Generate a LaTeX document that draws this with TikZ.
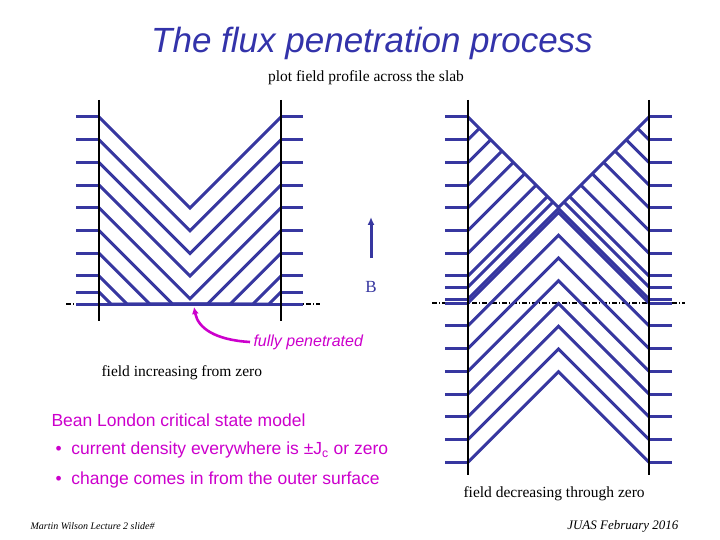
\documentclass[tikz,border=0pt]{standalone}
\usepackage{fontspec}
\setmainfont{Liberation Serif}
\setsansfont{Liberation Sans}
\usetikzlibrary{arrows.meta}
\definecolor{lb}{RGB}{55,55,160}
\definecolor{mg}{RGB}{204,0,204}
\definecolor{tb}{RGB}{51,51,170}
\tikzset{prof/.style={lb,line width=3pt,line join=miter},
wall/.style={black,line width=2pt},
dd/.style={black,line width=1.2pt,dash pattern=on 5pt off 2pt on 1pt off 2pt},
mtxt/.style={mg,font=\sffamily\fontsize{17.5}{20}\selectfont,anchor=west}}
\begin{document}
\begin{tikzpicture}[x=1pt,y=-1pt]
\useasboundingbox (0,0) rectangle (720,540);
\node (title) at (372,43) {\sffamily\itshape\fontsize{35}{40}\selectfont\color{tb}The flux penetration process};
\node (sub) at (366,78) {\fontsize{15.5}{18}\selectfont plot field profile across the slab};
% left diagram
\draw[dd] (66,304) -- (320,304);
\foreach \y in {117,139.7,162.4,185.1,207.8,230.5,253.2,275.9,292}{
  \draw[prof] (76,\y) -- (99,\y);
  \draw[prof] (281,\y) -- (303,\y);
  \pgfmathsetmacro{\d}{min(91,304-\y)}
  \draw[prof] (99,\y) -- ({99+\d},{\y+\d}) -- ({281-\d},{\y+\d}) -- (281,\y);
}
\draw[prof] (76,304) -- (303,304);
\draw[wall] (99,100) -- (99,321);
\draw[wall] (281,100) -- (281,321);
% B arrow
\draw[lb,line width=3pt,-{Latex[length=8pt,width=7pt]}] (371,258) -- (371,217);
\node (B) at (371,287) {\fontsize{17}{20}\selectfont\color{lb}B};
% fully penetrated
\node[mg,anchor=west] (fp) at (250,342) {\sffamily\itshape\fontsize{16}{18}\selectfont fully penetrated};
\draw[mg,line width=2.6pt,-{Latex[length=7pt,width=7pt]}] (fp.west) .. controls (215,340) and (198,328) .. (194,307);
\node[anchor=west] (fi) at (98,373) {\fontsize{15.5}{18}\selectfont field increasing from zero};
% right diagram
\draw[dd] (432,303) -- (685,303);
\foreach \y in {117,139.7,162.4,185.1,207.8,230.5,253.2,275.9,287,299}{
  \draw[prof] (445,\y) -- (468,\y);
  \draw[prof] (649,\y) -- (672,\y);
  \pgfmathsetmacro{\d}{(\y-117)/2}
  \draw[prof] (468,\y) -- ({468+\d},{\y-\d});
  \draw[prof] (649,\y) -- ({649-\d},{\y-\d});
}
\draw[prof] (468,117) -- (558.5,207.5) -- (649,117);
\foreach \y in {303,325.75,348.5,371.25,394,416.75,439.5,462.25}{
  \draw[prof] (445,\y) -- (468,\y);
  \draw[prof] (649,\y) -- (672,\y);
  \draw[prof] (468,\y) -- (558.5,{\y-90.5}) -- (649,\y);
}
\draw[wall] (468,100) -- (468,475);
\draw[wall] (649,100) -- (649,475);
\node[anchor=west] (fd) at (460,494) {\fontsize{15.5}{18}\selectfont field decreasing through zero};
% text block
\node[mtxt] (bl) at (48,420) {Bean London critical state model};
\node[mtxt] (b1) at (52,450) {•\ \ current density everywhere is ±J\textsubscript{c} or zero};
\node[mtxt] (b2) at (52,480) {•\ \ change comes in from the outer surface};
\node[anchor=west] (f1) at (27,526) {\itshape\fontsize{10}{12}\selectfont Martin Wilson Lecture 2 slide\#};
\node[anchor=east] (f2) at (682,526) {\itshape\fontsize{13}{15}\selectfont JUAS February 2016};
\end{tikzpicture}
\end{document}
